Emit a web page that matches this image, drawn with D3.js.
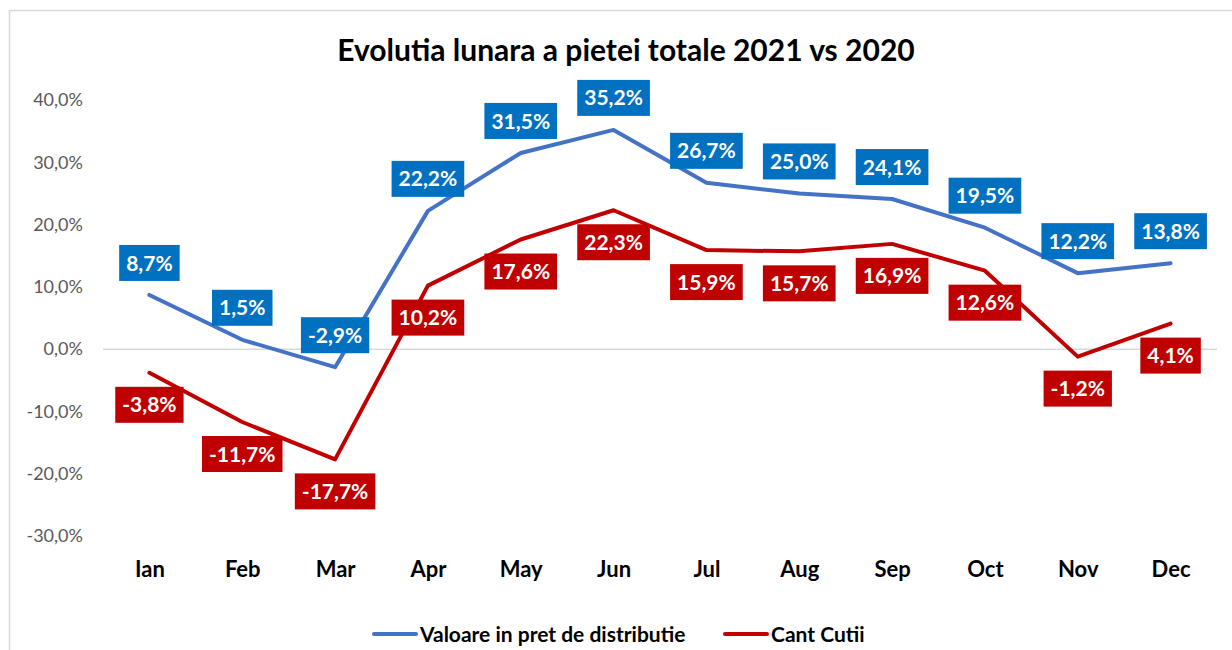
<!DOCTYPE html>
<html>
<head>
<meta charset="utf-8">
<script src="https://cdn.jsdelivr.net/npm/d3@7"></script>
<style>
  html, body { margin: 0; padding: 0; background: #ffffff; }
  svg { display: block; font-family: Lato, "Open Sans", sans-serif; }
</style>
</head>
<body>
<div id="chart"></div>
<script>
"use strict";

const months = ["Ian", "Feb", "Mar", "Apr", "May", "Jun", "Jul", "Aug", "Sep", "Oct", "Nov", "Dec"];
const valoare = [8.7, 1.5, -2.9, 22.2, 31.5, 35.2, 26.7, 25.0, 24.1, 19.5, 12.2, 13.8];
const cantitate = [-3.8, -11.7, -17.7, 10.2, 17.6, 22.3, 15.9, 15.7, 16.9, 12.6, -1.2, 4.1];
const yTicks = [-30, -20, -10, 0, 10, 20, 30, 40];
const seriesNames = ["Valoare in pret de distributie", "Cant Cutii"];

const width = 1232;
const height = 650;

const series = [
  { name: seriesNames[0], values: valoare, line: "#4472C4", box: "#0070C0", side: -1 },
  { name: seriesNames[1], values: cantitate, line: "#C00000", box: "#C00000", side: 1 },
];

const fmt = (v) => v.toFixed(1).replace(".", ",") + "%";

const svg = d3
  .select("#chart")
  .append("svg")
  .attr("width", width)
  .attr("height", height);

// chart frame
svg
  .append("path")
  .attr("d", `M9.5,${height} V10.5 H${width}`)
  .attr("fill", "none")
  .attr("stroke", "#D9D9D9")
  .attr("stroke-width", 1.5);

const x = d3.scalePoint().domain(months).range([103, 1217]).padding(0.5);
const y = d3.scaleLinear().domain([-30, 40]).range([536, 100]);

svg
  .append("text")
  .attr("x", 626)
  .attr("y", 61)
  .attr("text-anchor", "middle")
  .attr("font-size", 30)
  .attr("font-weight", 700)
  .attr("fill", "#000000")
  .text("Evolutia lunara a pietei totale 2021 vs 2020");

// zero line
svg
  .append("line")
  .attr("x1", 103)
  .attr("x2", 1217)
  .attr("y1", y(0))
  .attr("y2", y(0))
  .attr("stroke", "#D9D9D9")
  .attr("stroke-width", 1.5);

const yAxis = svg
  .append("g")
  .attr("transform", "translate(83,0)")
  .call(d3.axisLeft(y).tickValues(yTicks).tickSize(0).tickPadding(0).tickFormat(fmt));
yAxis.select(".domain").remove();
yAxis
  .selectAll("text")
  .attr("font-family", "Lato, sans-serif")
  .attr("font-size", 18)
  .attr("fill", "#595959");

const xAxis = svg
  .append("g")
  .attr("transform", "translate(0,577)")
  .call(d3.axisBottom(x).tickSize(0).tickPadding(0));
xAxis.select(".domain").remove();
xAxis
  .selectAll("text")
  .attr("y", 0)
  .attr("dy", 0)
  .attr("font-family", "Lato, sans-serif")
  .attr("font-size", 22)
  .attr("font-weight", 700)
  .attr("fill", "#000000");

const line = d3
  .line()
  .x((d, i) => x(months[i]))
  .y((d) => y(d));

svg
  .selectAll("path.series")
  .data(series)
  .join("path")
  .attr("class", "series")
  .attr("d", (s) => line(s.values))
  .attr("fill", "none")
  .attr("stroke", (s) => s.line)
  .attr("stroke-width", 4)
  .attr("stroke-linejoin", "round")
  .attr("stroke-linecap", "round");

// data labels
series.forEach((s) => {
  const g = svg
    .append("g")
    .selectAll("g")
    .data(s.values)
    .join("g")
    .attr("transform", (d, i) => `translate(${x(months[i])},${y(d) + s.side * 32})`);

  const rects = g.append("rect").attr("fill", s.box);
  const texts = g
    .append("text")
    .attr("text-anchor", "middle")
    .attr("dy", "0.36em")
    .attr("font-size", 21)
    .attr("font-weight", 700)
    .attr("fill", "#ffffff")
    .text((d) => fmt(d));

  texts.each(function (d, i) {
    const w = this.getComputedTextLength() + 14;
    d3.select(rects.nodes()[i])
      .attr("x", -w / 2)
      .attr("y", -18)
      .attr("width", w)
      .attr("height", 36);
  });
});

// legend
const legendItems = [
  { name: seriesNames[0], color: series[0].line, x: 372 },
  { name: seriesNames[1], color: series[1].line, x: 723 },
];
const legend = svg
  .append("g")
  .selectAll("g")
  .data(legendItems)
  .join("g")
  .attr("transform", (d) => `translate(${d.x},634)`);
legend
  .append("line")
  .attr("x1", 2)
  .attr("x2", 44)
  .attr("stroke", (d) => d.color)
  .attr("stroke-width", 4)
  .attr("stroke-linecap", "round");
legend
  .append("text")
  .attr("x", 48)
  .attr("dy", "0.36em")
  .attr("font-size", 21)
  .attr("font-weight", 700)
  .attr("fill", "#000000")
  .text((d) => d.name);
</script>
</body>
</html>
